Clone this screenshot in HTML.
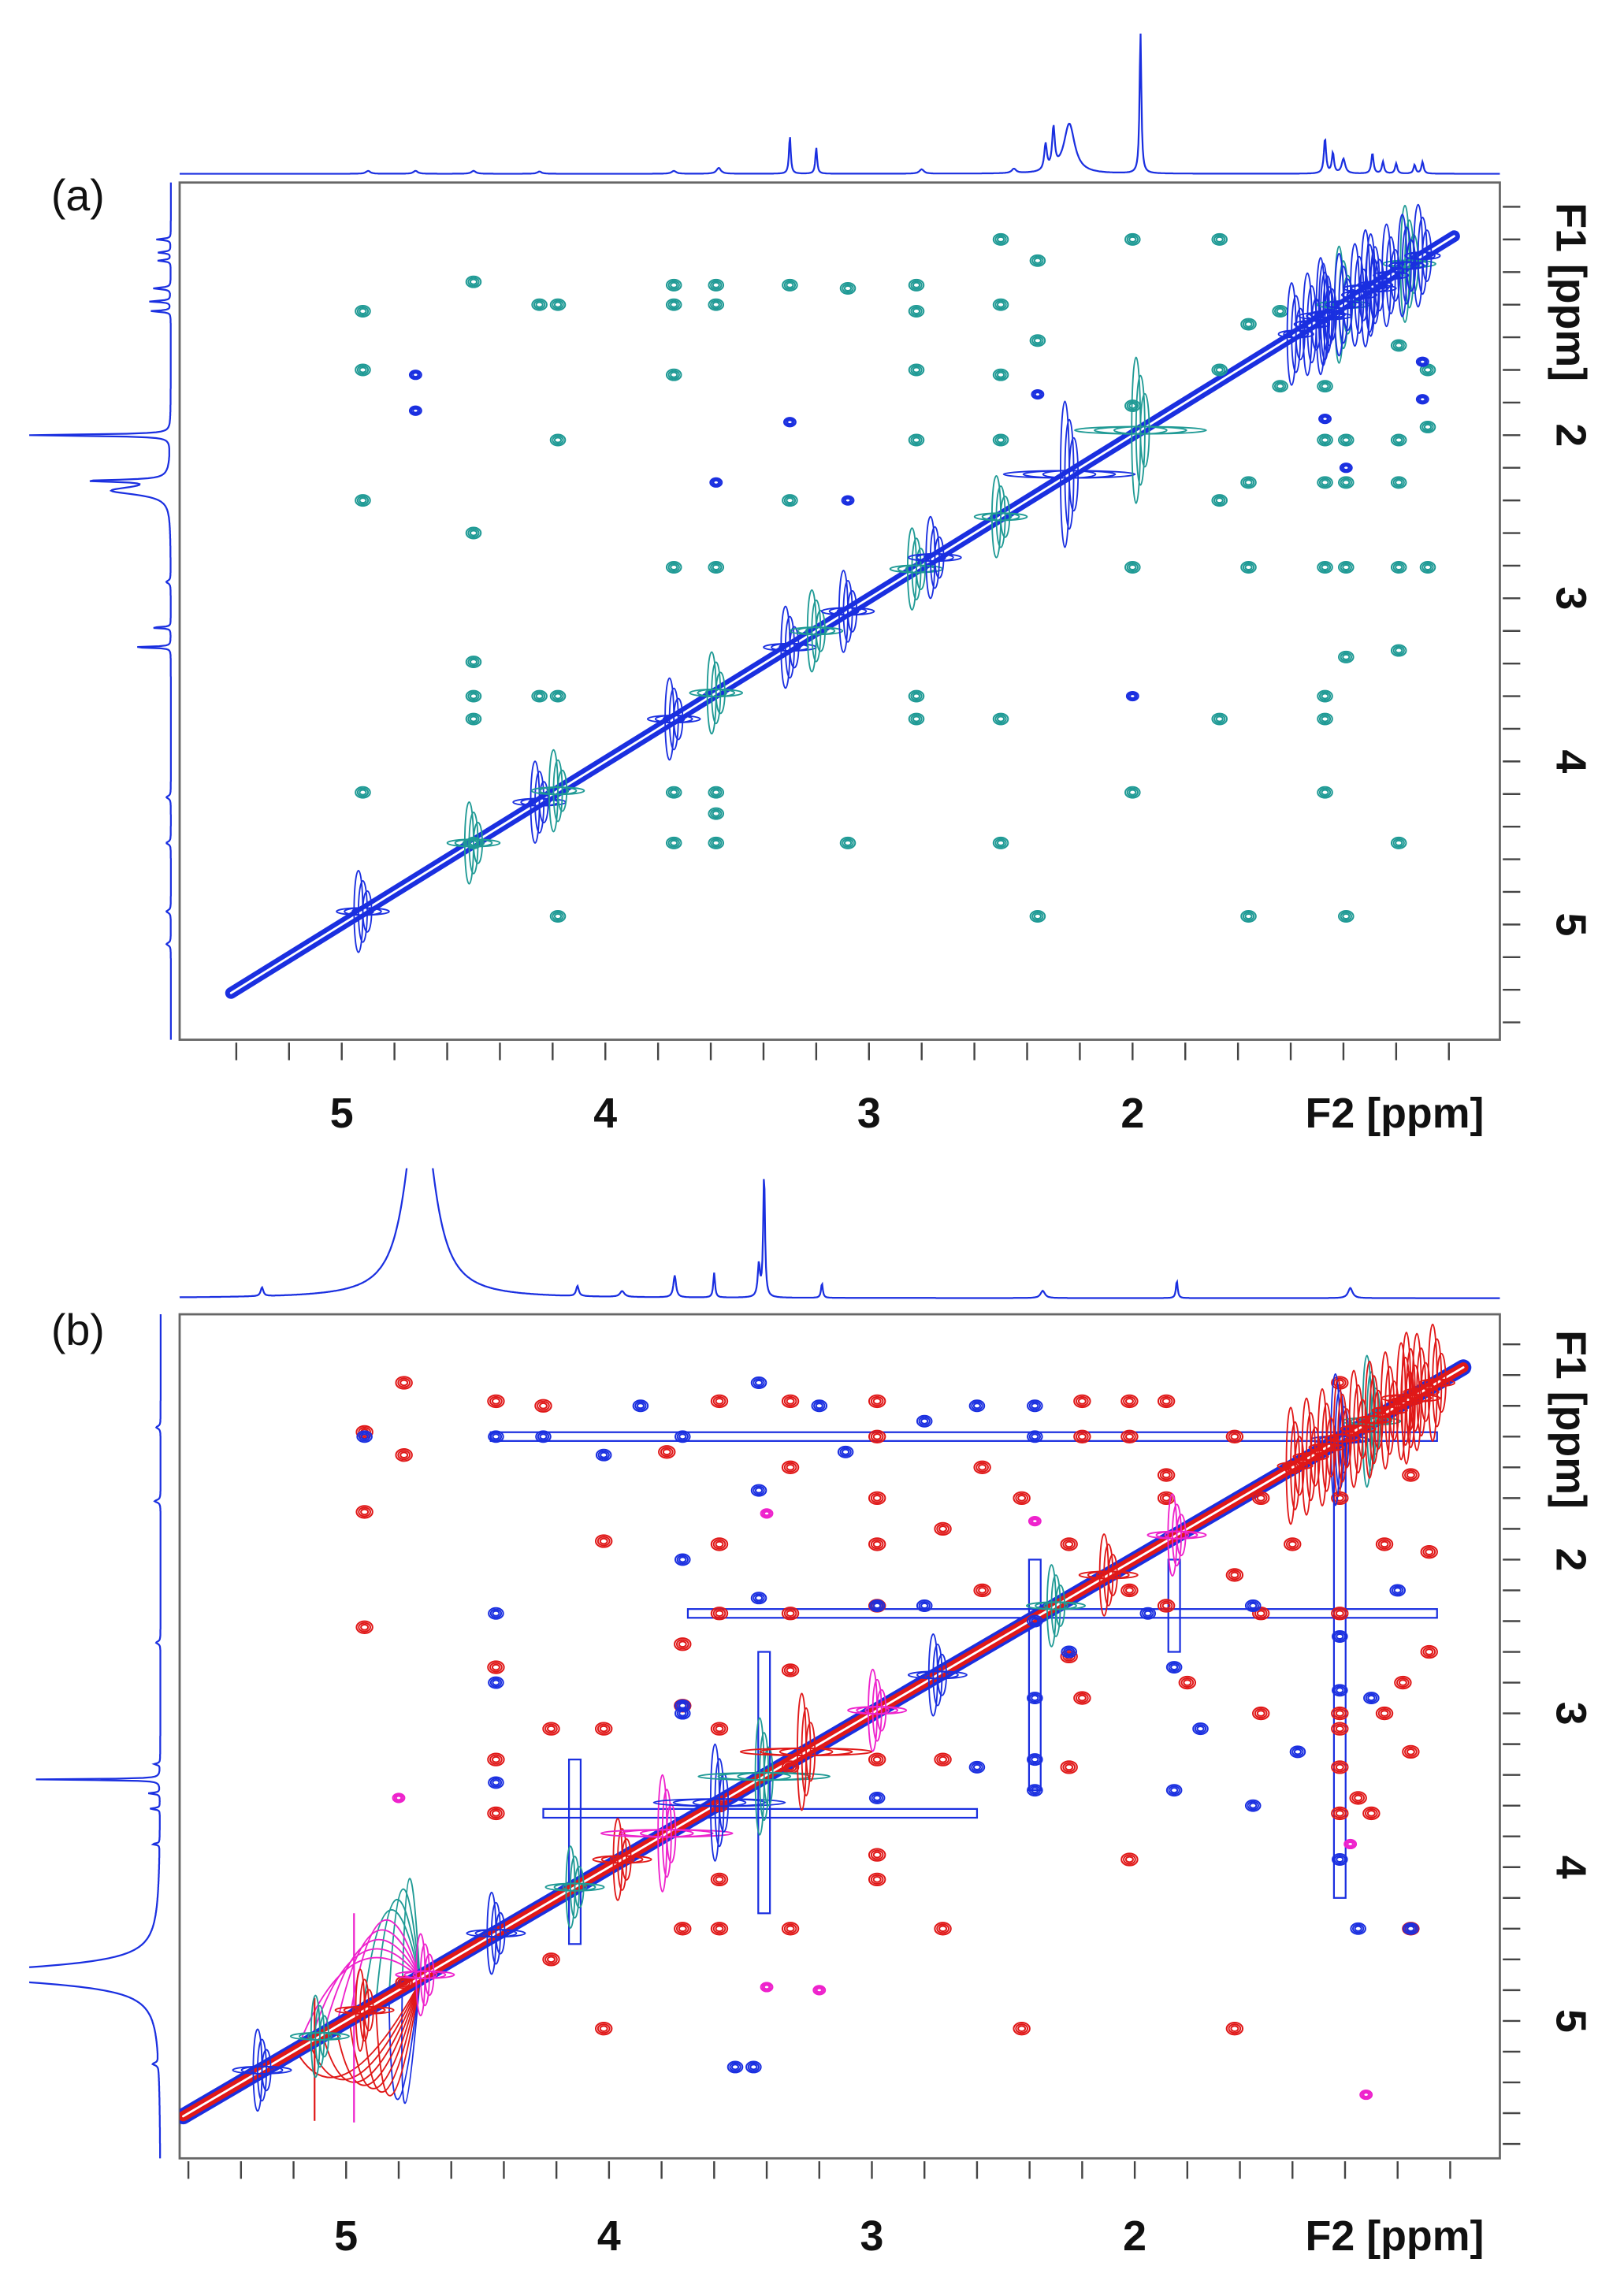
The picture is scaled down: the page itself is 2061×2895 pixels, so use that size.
<!DOCTYPE html>
<html><head><meta charset="utf-8">
<style>
html,body{margin:0;padding:0;background:#fff;}
svg{display:block;}
text{font-family:"Liberation Sans",Arial,sans-serif;}
</style></head>
<body>
<svg id="fig" xmlns="http://www.w3.org/2000/svg" width="2061" height="2895" viewBox="0 0 1112 1562">
<rect x="0" y="0" width="1112" height="1562" fill="#fff"/>
</svg>
<script>
// ---------- DATA ----------
const xTicksA = [5, 4, 3, 2];
const yTicksA = [2, 3, 4, 5];
const xTicksB = [5, 4, 3, 2];
const yTicksB = [2, 3, 4, 5];
// 1D projection peaks: [ppm, height, width(ppm)]
const topPeaksA = [[4.90,2,0.01],[4.72,2,0.01],[4.50,2,0.01],[4.25,1.5,0.01],[3.74,2,0.01],[3.57,4,0.01],[3.30,26,0.004],[3.20,18,0.004],[2.80,3,0.01],[2.45,3,0.01],[2.30,28,0.006],[2.33,18,0.006],[2.24,34,0.025],[1.97,97,0.004],[1.27,24,0.005],[1.24,14,0.005],[1.20,10,0.008],[1.09,14,0.005],[1.05,8,0.005],[1.00,7,0.005],[0.93,6,0.005],[0.90,8,0.005]];
const leftPeaksA = [[0.80,10,0.005],[0.88,9,0.005],[0.93,9,0.005],[1.10,12,0.006],[1.18,15,0.005],[1.24,14,0.005],[2.00,97,0.006],[2.28,50,0.008],[2.34,40,0.03],[2.90,3,0.01],[3.18,14,0.004],[3.30,28,0.004],[4.22,3,0.01],[4.50,3,0.01],[4.92,3,0.01],[5.12,3,0.01]];
const topPeaksB = [[5.32,6,0.006],[4.72,150,0.06],[4.12,7,0.006],[3.95,4,0.01],[3.75,15,0.006],[3.60,17,0.004],[3.43,22,0.005],[3.41,86,0.004],[3.19,10,0.004],[2.35,5,0.01],[1.84,12,0.004],[1.18,7,0.01]];
const leftPeaksB = [[1.14,3,0.01],[1.62,4,0.01],[2.54,3,0.01],[3.33,4,0.006],[3.43,88,0.004],[3.52,8,0.005],[3.62,7,0.005],[3.85,5,0.005],[4.70,150,0.06],[5.28,4,0.01]];
// Panel (a) cross peaks: [F2 ppm, F1 ppm]
const crossTealA = [[4.92,1.24],[4.92,1.60],[4.92,2.40],[4.92,4.19],[4.50,1.06],[4.50,2.60],[4.50,3.39],[4.50,3.60],[4.50,3.74],[4.50,4.50],[4.25,1.20],[4.18,1.20],[4.18,2.03],[4.18,3.60],[4.25,3.60],[4.18,4.95],[3.74,1.08],[3.74,1.20],[3.74,1.63],[3.74,2.81],[3.74,4.50],[3.74,4.19],[3.58,1.08],[3.58,1.20],[3.58,2.81],[3.58,4.19],[3.58,4.32],[3.58,4.50],[3.30,1.08],[3.30,2.40],[3.08,1.10],[3.08,4.50],[2.82,1.08],[2.82,1.24],[2.82,1.60],[2.82,2.03],[2.82,3.60],[2.82,3.74],[2.50,0.80],[2.50,1.20],[2.50,1.63],[2.50,2.03],[2.50,3.74],[2.50,4.50],[2.36,0.93],[2.36,1.42],[2.36,4.95],[2.00,0.80],[2.00,1.82],[2.00,2.81],[2.00,4.19],[1.67,0.80],[1.67,1.60],[1.67,2.40],[1.67,3.74],[1.56,1.32],[1.56,2.29],[1.56,2.81],[1.56,4.95],[1.44,1.24],[1.44,1.70],[1.27,1.70],[1.27,2.03],[1.27,2.29],[1.27,2.81],[1.27,3.60],[1.27,3.74],[1.27,4.19],[1.19,2.03],[1.19,2.29],[1.19,2.81],[1.19,3.36],[1.19,4.95],[0.99,1.45],[0.99,2.03],[0.99,2.29],[0.99,2.81],[0.99,3.32],[0.99,4.50],[0.88,1.60],[0.88,1.95],[0.88,2.81]];
const crossBlueA = [[4.72,1.63],[4.72,1.85],[3.58,2.29],[3.30,1.92],[3.08,2.40],[2.36,1.75],[2.00,3.60],[1.27,1.90],[1.19,2.20],[0.90,1.55],[0.90,1.78]];
const diagCrossA = [4.92,4.50,4.25,4.18,3.74,3.58,3.30,3.20,3.08,2.82,2.75,2.50,2.24,1.97,1.27,1.20,1.10,0.95];
// Panel (b) cross peaks
const crossRedB = [[4.78,0.85],[4.93,1.17],[4.93,1.69],[4.78,1.32],[4.93,2.44],[4.78,4.75],[4.43,0.97],[4.43,2.70],[4.43,3.30],[4.43,3.65],[4.25,1.00],[4.22,3.10],[4.02,1.88],[4.02,3.10],[4.02,5.05],[4.22,4.60],[3.78,1.30],[3.72,2.55],[3.72,2.95],[3.72,4.40],[3.58,0.97],[3.58,1.90],[3.58,2.35],[3.58,3.10],[3.58,3.60],[3.58,4.08],[3.58,4.40],[3.31,0.97],[3.31,1.40],[3.31,2.35],[3.31,2.72],[3.31,3.35],[3.31,4.40],[2.98,0.97],[2.98,1.20],[2.98,1.60],[2.98,1.90],[2.98,2.30],[2.98,3.30],[2.98,4.08],[2.98,3.92],[2.73,1.80],[2.73,3.30],[2.73,4.40],[2.58,1.40],[2.58,2.20],[2.43,1.60],[2.43,5.05],[2.25,1.90],[2.25,2.63],[2.25,3.35],[2.20,0.97],[2.20,1.20],[2.20,2.90],[2.02,0.97],[2.02,1.20],[2.02,2.20],[2.02,3.95],[1.88,0.97],[1.88,1.45],[1.88,1.60],[1.88,2.30],[1.80,2.80],[1.62,1.20],[1.62,2.10],[1.62,5.05],[1.52,1.60],[1.52,2.35],[1.52,3.00],[1.40,1.40],[1.40,1.90],[1.22,0.85],[1.22,1.60],[1.22,2.35],[1.22,3.00],[1.22,3.10],[1.22,3.35],[1.22,3.65],[1.10,3.65],[1.15,3.55],[1.05,1.90],[1.05,3.00],[0.98,2.80],[0.95,1.45],[0.95,3.25],[0.95,4.40],[0.88,1.95],[0.88,2.60]];
const crossBlueB = [[4.93,1.20],[4.43,1.20],[4.43,2.35],[4.43,2.80],[4.43,3.45],[4.25,1.20],[4.02,1.32],[3.88,1.00],[3.72,1.20],[3.72,2.00],[3.72,2.95],[3.72,3.00],[3.43,0.85],[3.43,1.55],[3.43,2.25],[3.20,1.00],[3.10,1.30],[2.98,2.30],[2.98,3.55],[2.80,1.10],[2.80,2.30],[2.60,1.00],[2.60,3.35],[2.38,1.00],[2.38,1.20],[2.38,2.40],[2.38,2.90],[2.38,3.30],[2.38,3.50],[2.25,2.60],[1.95,2.35],[1.85,2.70],[1.85,3.50],[1.75,3.10],[1.55,2.30],[1.55,3.60],[1.38,3.25],[1.22,2.50],[1.22,2.85],[1.22,3.95],[1.15,4.40],[1.10,2.90],[1.00,2.20],[0.95,4.40],[3.52,5.30],[3.45,5.30]];
const crossMagentaB = [[3.40,4.78],[3.40,1.70],[3.20,4.80],[4.80,3.55],[1.12,5.48],[1.18,3.85],[2.38,1.75]];
const diagCrossB = [5.32,5.10,4.93,4.70,4.43,4.13,3.95,3.78,3.58,3.41,3.25,2.98,2.75,2.30,2.10,1.84,1.22,1.10,0.95];

// ---------- SETUP ----------
const NS = 'http://www.w3.org/2000/svg';
const svg = document.getElementById('fig');
function mk(tag, attrs, parent){ const e=document.createElementNS(NS,tag); for(const k in attrs) e.setAttribute(k,attrs[k]); (parent||svg).appendChild(e); return e; }

const panels = [
 {id:'a', L:123, R:1027, T:125, B:712, x0:234, xs:180.5, y0:298, ys:111.7, topBase:119, leftBase:117, lab:'(a)', labY:144, xLabY:772, f1Y:200, projClipY:0,
  top:topPeaksA, left:leftPeaksA, xt:xTicksA, yt:yTicksA},
 {id:'b', L:123, R:1027, T:900, B:1478, x0:237, xs:180, y0:1068, ys:105.3, topBase:889, leftBase:110, lab:'(b)', labY:921, xLabY:1541, f1Y:972, projClipY:800,
  top:topPeaksB, left:leftPeaksB, xt:xTicksB, yt:yTicksB}
];
panels.forEach(p=>{ p.X = ppm => p.x0 + (5-ppm)*p.xs; p.Y = ppm => p.y0 + (ppm-2)*p.ys; });

function lor(ppm, peaks){ let s=0; for(const [c,h,w] of peaks){ s += h*w*w/((ppm-c)*(ppm-c)+w*w); } return s; }

panels.forEach(p=>{
  const g = mk('g',{});
  
  
  const pc = mk('clipPath',{id:'proj'+p.id},g); mk('rect',{x:20,y:p.projClipY,width:1092,height:1562-p.projClipY},pc);
  const pg = mk('g',{'clip-path':`url(#proj${p.id})`},g);
  let d='';
  for(let x=p.L; x<=p.R; x+=0.5){ const ppm = 5-(x-p.x0)/p.xs; let y=p.topBase-lor(ppm,p.top); d+=(d?'L':'M')+x.toFixed(1)+' '+y.toFixed(1); }
  const tp = mk('path',{d:d,fill:'none',stroke:'#1a2fe0','stroke-width':1.2},pg);
  
  
  d='';
  for(let y=p.T; y<=p.B; y+=0.5){ const ppm = 2+(y-p.y0)/p.ys; let x=p.leftBase-lor(ppm,p.left); d+=(d?'L':'M')+x.toFixed(1)+' '+y.toFixed(1); }
  const lp = mk('path',{d:d,fill:'none',stroke:'#1a2fe0','stroke-width':1.2},pg);
  
  
  const fr = mk('rect',{x:p.L,y:p.T,width:p.R-p.L,height:p.B-p.T,fill:'none',stroke:'#666','stroke-width':1.5},g);
  
  
  for(let v=6; v>=0.4; v-=0.2){ const x=p.X(v); if(x<p.L+3||x>p.R-3) continue; mk('line',{x1:x,y1:p.B+2,x2:x,y2:p.B+14,stroke:'#444','stroke-width':1.3},g); }
  p.xt.forEach(v=>{ const t=mk('text',{x:p.X(v),y:p.xLabY,'font-size':29,'font-weight':'bold','text-anchor':'middle',fill:'#111'},g); t.textContent=v;
      });
  const xl = mk('text',{x:955,y:p.xLabY,'font-size':29,'font-weight':'bold','text-anchor':'middle',fill:'#111'},g); xl.textContent='F2 [ppm]';
   
  for(let v=0; v<=6; v+=0.2){ const y=p.Y(v); if(y<p.T+3||y>p.B-3) continue; mk('line',{x1:p.R+2,y1:y,x2:p.R+14,y2:y,stroke:'#444','stroke-width':1.3},g); }
  p.yt.forEach(v=>{ const y=p.Y(v); const t=mk('text',{x:0,y:0,'font-size':29,'font-weight':'bold','text-anchor':'middle',fill:'#111',transform:`translate(1066 ${y}) rotate(90)`},g); t.textContent=v;
      });
  const yl = mk('text',{x:0,y:0,'font-size':29,'font-weight':'bold','text-anchor':'middle',fill:'#111',transform:`translate(1066 ${p.f1Y}) rotate(90)`},g); yl.textContent='F1 [ppm]';
   
  const pl = mk('text',{x:35,y:p.labY,'font-size':30,fill:'#111'},g); pl.textContent=p.lab;
   
  const cp = mk('clipPath',{id:'clip'+p.id},g); mk('rect',{x:p.L,y:p.T,width:p.R-p.L,height:p.B-p.T},cp);
  p.g = mk('g',{'clip-path':`url(#clip${p.id})`},g);
});

function spot(p, f2, f1, color, r, name){
  const cx=p.X(f2), cy=p.Y(f1);
  const s = mk('g',{},p.g);
  
  
  for(let i=0;i<3;i++){ mk('ellipse',{cx:cx,cy:cy,rx:r*(1-i*0.28),ry:r*0.75*(1-i*0.28),fill:'none',stroke:color,'stroke-width':1.1},s); }
}
function diagCross(p, ppm, color, lenV, lenH, name){
  const cx=p.X(ppm), cy=p.Y(ppm);
  const s = mk('g',{},p.g);
  
  
  for(let i=0;i<3;i++){
    mk('ellipse',{cx:cx-3+i*3,cy:cy,rx:3,ry:lenV*(1-i*0.25),fill:'none',stroke:color,'stroke-width':1},s);
    mk('ellipse',{cx:cx,cy:cy,rx:lenH*(1-i*0.3),ry:2.5,fill:'none',stroke:color,'stroke-width':1},s);
  }
}
function diagonal(p, from, to, colors, widths, name){
  const s = mk('g',{},p.g);
  
  
  colors.forEach((c,i)=>{ mk('line',{x1:p.X(from),y1:p.Y(from),x2:p.X(to),y2:p.Y(to),stroke:c,'stroke-width':widths[i],'stroke-linecap':'round'},s); });
}

// ----- Panel A -----
const pa = panels[0];
diagonal(pa, 5.42, 0.78, ['#1a2fe0','#ffffff'], [8,1.5], 'diagonal-a');
crossTealA.forEach(([f2,f1])=>spot(pa,f2,f1,'#1f9a95',5,'cross-peak-teal'));
crossBlueA.forEach(([f2,f1])=>spot(pa,f2,f1,'#1a2fe0',4,'cross-peak-blue'));
diagCrossA.forEach((v,i)=>diagCross(pa,v,i%2?'#1f9a95':'#1a2fe0', v<2.3&&v>1.9?50:(v<1.4?40:28), v<2.3&&v>1.9?45:18,'diagonal-peak'));
for(let v=0.9; v<=1.4; v+=0.06){ diagCross(pa, v, '#1a2fe0', 35, 12, 'diagonal-peak'); }

// ----- Panel B -----
const pb = panels[1];
const streaksB = [[4.45,0.85,1.20],[3.70,0.85,2.35],[4.25,2.60,3.65]];
streaksB.forEach(([a,b,f1])=>{ const l=mk('rect',{x:pb.X(a),y:pb.Y(f1)-3,width:pb.X(b)-pb.X(a),height:6,fill:'none',stroke:'#1a2fe0','stroke-width':1.2},pb.g);
    });
const vStreaksB = [[1.22,1.2,4.2],[2.38,2.0,3.5],[1.85,2.0,2.6],[3.41,2.6,4.3],[4.13,3.3,4.5]];
vStreaksB.forEach(([f2,a,b])=>{ const l=mk('rect',{x:pb.X(f2)-4,y:pb.Y(a),width:8,height:pb.Y(b)-pb.Y(a),fill:'none',stroke:'#1a2fe0','stroke-width':1.2},pb.g);
    });
const fan = mk('g',{},pb.g);


const jx = pb.X(4.72), jy = pb.Y(4.72);
for(let i=0;i<9;i++){
  const ex = jx - 12 - i*9, ey = pb.Y(5 - (ex-pb.x0)/pb.xs);
  const upCol = i<4 ? '#1f9a95' : '#ee22cc';
  mk('path',{d:`M${jx} ${jy} Q ${jx-8-i*5} ${1215+i*12} ${ex} ${ey}`,fill:'none',stroke:upCol,'stroke-width':1},fan);
  const dnCol = i<2 ? '#1a2fe0' : '#e01818';
  mk('path',{d:`M${jx} ${jy+3} Q ${jx-14-i*5} ${1520-i*8} ${ex} ${ey+2}`,fill:'none',stroke:dnCol,'stroke-width':1},fan);
}
mk('line',{x1:pb.X(4.97),y1:pb.Y(4.3),x2:pb.X(4.97),y2:pb.Y(5.66),stroke:'#ee22cc','stroke-width':1.2},fan);
mk('line',{x1:pb.X(5.12),y1:pb.Y(4.85),x2:pb.X(5.12),y2:pb.Y(5.65),stroke:'#e01818','stroke-width':1.2},fan);
diagonal(pb, 5.62, 0.75, ['#1a2fe0','#e01818','#ffffff'], [11,7,1.5], 'diagonal-b');
crossRedB.forEach(([f2,f1])=>spot(pb,f2,f1,'#e01818',5.5,'cross-peak-red'));
crossBlueB.forEach(([f2,f1])=>spot(pb,f2,f1,'#1a2fe0',5,'cross-peak-blue'));
crossMagentaB.forEach(([f2,f1])=>spot(pb,f2,f1,'#ee22cc',4,'cross-peak-magenta'));
diagCrossB.forEach((v,i)=>diagCross(pb,v,['#1a2fe0','#1f9a95','#e01818','#ee22cc'][i%4], v>3.2&&v<3.8?40:(v<1.4?45:28), v>3.2&&v<3.8?45:20,'diagonal-peak'));
for(let v=0.85; v<=1.4; v+=0.06){ diagCross(pb, v, '#e01818', 40, 12, 'diagonal-peak'); }
</script>
</body></html>
